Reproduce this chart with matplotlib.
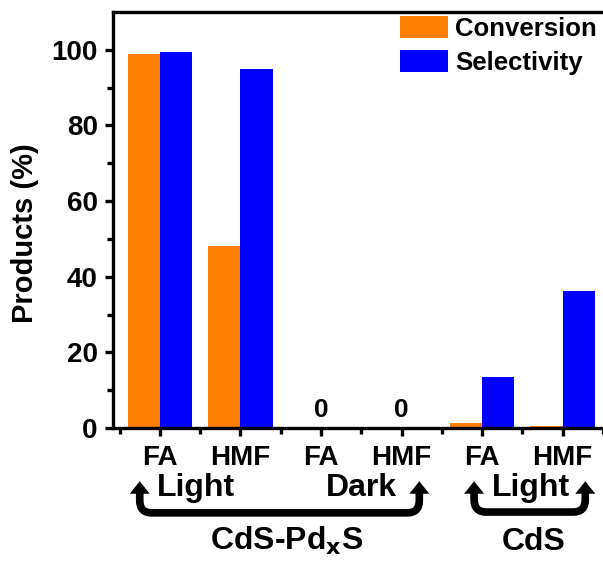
import matplotlib
matplotlib.use("Agg")
import matplotlib.pyplot as plt
import matplotlib.transforms as mtransforms
from matplotlib.patches import FancyArrowPatch, PathPatch
from matplotlib.path import Path
import numpy as np

plt.rcParams.update({"font.family": ["Liberation Sans", "DejaVu Sans"], "font.weight": "bold",
                     "axes.labelweight": "bold", "mathtext.default": "bf"})

categories = ["FA", "HMF", "FA", "HMF", "FA", "HMF"]
conversion = [99.0, 48.0, 0.0, 0.0, 1.2, 0.6]
selectivity = [99.4, 95.0, 0.0, 0.0, 13.5, 36.2]
zero_labels = ["", "", "0", "0", "", ""]

orange = "#FF8000"
blue = "#0000FF"

fig = plt.figure(figsize=(6.03, 5.61), dpi=100)
ax = fig.add_axes([113/603, 1-428/561, 490/603, 416/561])

x = np.arange(1, len(categories)+1)
w = 0.4
ax.bar(x - w/2, conversion, w, color=orange, label="Conversion", zorder=2)
ax.bar(x + w/2, selectivity, w, color=blue, label="Selectivity", zorder=2)

for xi, t in zip(x, zero_labels):
    if t:
        ax.text(xi, 3, t, ha="center", va="baseline", fontsize=19, fontweight="bold")

ax.set_xlim(0.418, 6.48)
ax.set_ylim(0, 110)
ax.set_xticks(x)
ax.set_xticklabels(categories)
ax.set_xticks(np.arange(0.5, 6.6, 1.0), minor=True)
ax.set_yticks(np.arange(0, 101, 20))
ax.set_yticks(np.arange(10, 101, 20), minor=True)

for s in ["left", "bottom", "top"]:
    ax.spines[s].set_linewidth(2.4)
ax.spines["right"].set_visible(False)
ax.tick_params(axis="both", which="major", direction="out", length=6, width=2.4, labelsize=20)
ax.tick_params(axis="both", which="minor", direction="out", length=4, width=2.4)
ax.tick_params(axis="x", which="major", pad=6)
ax.tick_params(axis="y", which="major", pad=5)
for lab in ax.get_xticklabels() + ax.get_yticklabels():
    lab.set_fontweight("bold")

fig.text(25/603, 1-233/561, "Products (%)", rotation=90, ha="center", va="center",
         fontsize=21, fontweight="bold")

ax.legend(loc="upper left", bbox_to_anchor=((400-113)/490, (428-16)/416), frameon=False,
          fontsize=18.5, handlelength=1.85, handleheight=0.95, handletextpad=0.3,
          labelspacing=0.35, borderpad=0, borderaxespad=0)

tr = mtransforms.blended_transform_factory(ax.transData, ax.transAxes)


def bracket(x0, x1, ytip, ybot):
    rx, ry = 0.15, 0.03
    ybase = ytip - 0.026
    verts = [(x0, ybase), (x0, ybot + ry), (x0, ybot), (x0 + rx, ybot),
             (x1 - rx, ybot), (x1, ybot), (x1, ybot + ry), (x1, ybase)]
    codes = [Path.MOVETO, Path.LINETO, Path.CURVE3, Path.CURVE3,
             Path.LINETO, Path.CURVE3, Path.CURVE3, Path.LINETO]
    ax.add_patch(PathPatch(Path(verts, codes), fill=False, lw=5.5, edgecolor="black",
                           capstyle="butt", transform=tr, clip_on=False))
    for xa in (x0, x1):
        ax.add_patch(FancyArrowPatch((xa, ybase - 0.005), (xa, ytip),
                                     arrowstyle="-|>,head_length=0.45,head_width=0.36",
                                     mutation_scale=20, lw=0, color="black", shrinkA=0, shrinkB=0,
                                     transform=tr, clip_on=False))


bracket(0.75, 4.22, -0.128, -0.204)
bracket(4.90, 6.28, -0.128, -0.202)

ax.text(1.45, -0.163, "Light", transform=tr, ha="center", va="baseline", fontsize=23, clip_on=False)
ax.text(3.50, -0.163, "Dark", transform=tr, ha="center", va="baseline", fontsize=23, clip_on=False)
ax.text(5.60, -0.163, "Light", transform=tr, ha="center", va="baseline", fontsize=23, clip_on=False)
ax.text(2.57, -0.293, r"CdS-Pd$_\mathbf{x}$S", transform=tr, ha="center", va="baseline", fontsize=23,
        clip_on=False)
ax.text(5.64, -0.293, "CdS", transform=tr, ha="center", va="baseline", fontsize=23, clip_on=False)

fig.savefig("out.png", dpi=100)
